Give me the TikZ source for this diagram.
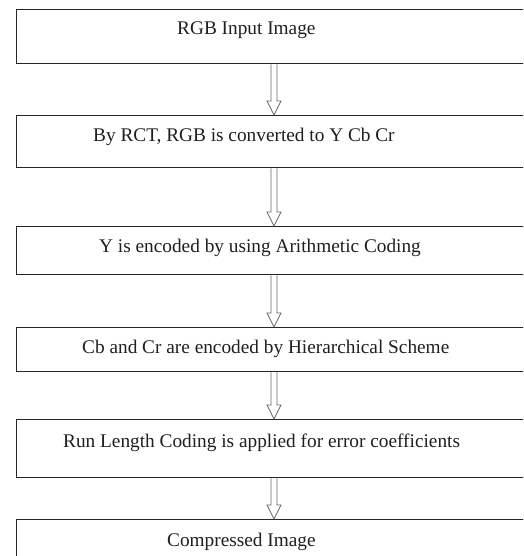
\documentclass[tikz,border=0pt]{standalone}
\usepackage{fontspec}
\setmainfont{Liberation Serif}
\begin{document}
\begin{tikzpicture}[x=1pt,y=1pt,
  stagebox/.style={draw=black!85,line width=1.3pt,rectangle,inner sep=0pt,anchor=north west},
  lbl/.style={anchor=base west,inner sep=0pt,text=black!88,font=\fontsize{19.3}{23}\selectfont},
  hollowarrow/.style={draw=black!60,line width=0.8pt,line join=miter}]
\path[use as bounding box,clip] (0,0) rectangle (523,-556);
\fill[white] (0,0) rectangle (523,-556);
% boxes
\node[stagebox,minimum width=530pt,minimum height=54pt] (b1) at (16,-9) {};
\node[stagebox,minimum width=530pt,minimum height=52pt] (b2) at (16,-115) {};
\node[stagebox,minimum width=530pt,minimum height=48pt] (b3) at (16,-226) {};
\node[stagebox,minimum width=530pt,minimum height=44pt] (b4) at (16,-327) {};
\node[stagebox,minimum width=530pt,minimum height=58pt] (b5) at (16,-419) {};
\node[stagebox,minimum width=530pt,minimum height=60pt] (b6) at (16,-519) {};
% labels
\node[lbl] (t1) at (177,-35) {RGB Input Image};
\node[lbl] (t2) at (93,-142) {By RCT, RGB is converted to Y Cb Cr};
\node[lbl] (t3) at (99,-252) {Y is encoded by using Arithmetic Coding};
\node[lbl] (t4) at (82,-353) {Cb and Cr are encoded by Hierarchical Scheme};
\node[lbl] (t5) at (63,-447) {Run Length Coding is applied for error coefficients};
\node[lbl] (t6) at (167,-546) {Compressed Image};
% arrow axis
\coordinate (ax) at (274,0);
\foreach \a/\b in {b1/b2,b2/b3,b3/b4,b4/b5,b5/b6}{
  \draw[hollowarrow]
    ([xshift=-3pt]\a.south -| ax) -- ([xshift=-3pt,yshift=14pt]\b.north -| ax)
    -- ([xshift=-7pt,yshift=14pt]\b.north -| ax) -- (\b.north -| ax)
    -- ([xshift=7pt,yshift=14pt]\b.north -| ax) -- ([xshift=3pt,yshift=14pt]\b.north -| ax)
    -- ([xshift=3pt]\a.south -| ax);
}
\end{tikzpicture}
\end{document}
